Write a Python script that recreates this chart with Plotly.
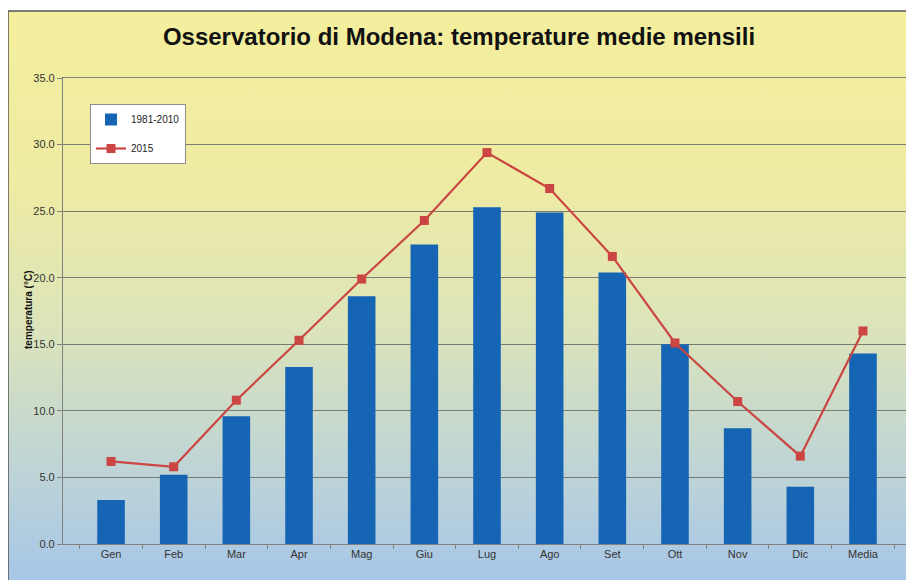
import base64
import plotly.graph_objects as go

months = ["Gen", "Feb", "Mar", "Apr", "Mag", "Giu", "Lug", "Ago", "Set", "Ott", "Nov", "Dic", "Media"]
clim_1981_2010 = [3.3, 5.2, 9.6, 13.3, 18.6, 22.5, 25.3, 24.9, 20.4, 15.0, 8.7, 4.3, 14.3]
year_2015 = [6.2, 5.8, 10.8, 15.3, 19.9, 24.3, 29.4, 26.7, 21.6, 15.1, 10.7, 6.6, 16.0]
y_ticks = [0, 5, 10, 15, 20, 25, 30, 35]

FONT = "Liberation Sans, Arial, sans-serif"

# page offset (browser body margin)
OFF = 8
FIG_W, FIG_H = 914 - OFF, 580 - OFF
# plot area in page px: x 63..911, y 78..544
L, R, T, B = 63, 911, 78, 544
W, H = R - L, B - T

def px_x(p):
    return (p - L) / W

def px_y(p):
    return (B - p) / H

svg = (
    '<svg xmlns="http://www.w3.org/2000/svg" width="100" height="100" preserveAspectRatio="none">'
    '<defs><linearGradient id="g" x1="0" y1="0" x2="0" y2="1">'
    '<stop offset="0" stop-color="#F3EF9D"/>'
    '<stop offset="0.3" stop-color="#EEEBA3"/>'
    '<stop offset="0.55" stop-color="#DCE4BA"/>'
    '<stop offset="0.8" stop-color="#BED4D6"/>'
    '<stop offset="1" stop-color="#A6C6E8"/>'
    '</linearGradient></defs>'
    '<rect x="0" y="0" width="100" height="100" fill="url(#g)"/></svg>'
)
src = "data:image/svg+xml;base64," + base64.b64encode(svg.encode()).decode()

fx0, fx1 = px_x(8), px_x(912)
fy0, fy1 = px_y(584), px_y(11)

fig = go.Figure()
fig.add_trace(go.Bar(
    x=months, y=clim_1981_2010, name="1981-2010",
    marker=dict(color="#1565B4", line=dict(width=0)),
    legendgroup="a",
))
fig.add_trace(go.Scatter(
    x=months, y=year_2015, name="2015", mode="lines+markers",
    line=dict(color="#CB4642", width=2.2),
    marker=dict(symbol="square", size=9, color="#CB4642"),
    legendgroup="b",
))

fig.update_layout(
    width=FIG_W, height=FIG_H,
    margin=dict(l=L - OFF, r=FIG_W - (R - OFF), t=T - OFF, b=FIG_H - (B - OFF)),
    paper_bgcolor="white",
    plot_bgcolor="rgba(0,0,0,0)",
    bargap=0.56,
    font=dict(family=FONT, size=11, color="#333333"),
    title=dict(
        text="<b>Osservatorio di Modena: temperature medie mensili</b>",
        x=(459 - OFF) / FIG_W, xanchor="center", y=1 - (37 - OFF) / FIG_H, yanchor="middle",
        font=dict(family=FONT, size=24, color="#111111"),
    ),
    showlegend=True,
    legend=dict(
        x=px_x(90), y=px_y(104), xanchor="left", yanchor="top",
        bgcolor="white", bordercolor="#8C8C8C", borderwidth=1,
        font=dict(family=FONT, size=10, color="#222222"),
        tracegroupgap=10, itemwidth=30,
    ),
    images=[dict(
        source=src, xref="paper", yref="paper",
        x=fx0, y=fy1, sizex=fx1 - fx0, sizey=fy1 - fy0,
        xanchor="left", yanchor="top", sizing="stretch", layer="below",
    )],
    shapes=[
        dict(type="rect", xref="paper", yref="paper",
             x0=fx0, x1=fx1, y0=fy0, y1=fy1,
             line=dict(color="#555555", width=1.5), layer="above"),
    ],
    annotations=[dict(
        text="<b>temperatura (°C)</b>", textangle=-90,
        xref="paper", yref="paper", x=px_x(28), y=px_y(310),
        xanchor="center", yanchor="middle", showarrow=False,
        font=dict(family=FONT, size=10, color="#111111"),
    )],
)

fig.update_xaxes(
    showline=True, linecolor="#808080", linewidth=1.2, mirror=True,
    ticks="outside", tickson="boundaries", ticklen=4, tickcolor="#808080",
    showgrid=False,
    tickfont=dict(family=FONT, size=11, color="#333333"),
)
fig.update_yaxes(
    range=[0, 35], tickvals=y_ticks, tickformat=".1f",
    showline=True, linecolor="#808080", linewidth=1.2, mirror=True,
    ticks="outside", ticklen=5, tickcolor="#808080",
    showgrid=True, gridcolor="#7A7A70", gridwidth=1.3,
    zeroline=False,
    tickfont=dict(family=FONT, size=11, color="#333333"),
)

fig.write_html("out.html")
